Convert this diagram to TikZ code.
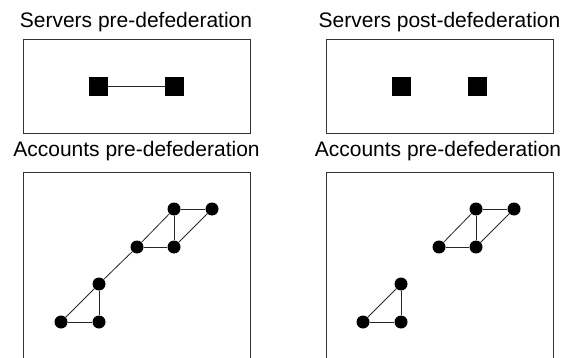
\documentclass[tikz,border=0pt]{standalone}
\usepackage{fontspec}
\setmainfont{Liberation Sans}
\begin{document}
\begin{tikzpicture}[x=1pt,y=-1pt,
  title/.style={anchor=base,inner sep=0pt,font=\fontsize{21}{25}\selectfont},
  frame/.style={draw=black!80,line width=0.9pt},
  srv/.style={draw=black,fill=black,minimum size=18pt,inner sep=0pt,rectangle},
  acc/.style={circle,fill=black,minimum size=13pt,inner sep=0pt},
  link/.style={draw=black!85,line width=0.8pt}]
\useasboundingbox (0,0) rectangle (572,358);
% titles
\node[title] (t1) at (136,28) {Servers pre-defederation};
\node[title] (t2) at (439.5,28) {Servers post-defederation};
\node[title] (t3) at (136.5,157) {Accounts pre-defederation};
\node[title] (t4) at (438,157) {Accounts pre-defederation};
% frames
\draw[frame] (23,39) rectangle (250,133);
\draw[frame] (326,39) rectangle (553,133);
\draw[frame] (23,358.5) -- (23,172) -- (250,172) -- (250,358.5);
\draw[frame] (326,358.5) -- (326,172) -- (553,172) -- (553,358.5);
% servers
\node[srv] (s1) at (98.5,86) {};
\node[srv] (s2) at (174,86) {};
\draw[link] (s1) -- (s2);
\node[srv] (s3) at (401.5,86) {};
\node[srv] (s4) at (477,86) {};
% accounts pre
\node[acc] (a1) at (174,209) {};
\node[acc] (a2) at (212,209) {};
\node[acc] (a3) at (137,247) {};
\node[acc] (a4) at (174,247) {};
\node[acc] (a5) at (99,284) {};
\node[acc] (a6) at (61,322) {};
\node[acc] (a7) at (99,322) {};
\draw[link] (a1) -- (a2);
\draw[link] (a1) -- (a4);
\draw[link] (a2) -- (a4);
\draw[link] (a1) -- (a3);
\draw[link] (a3) -- (a4);
\draw[link] (a3) -- (a5);
\draw[link] (a5) -- (a6);
\draw[link] (a5) -- (a7);
\draw[link] (a6) -- (a7);
% accounts post
\node[acc] (b1) at (476,209) {};
\node[acc] (b2) at (514,209) {};
\node[acc] (b3) at (439,247) {};
\node[acc] (b4) at (476,247) {};
\node[acc] (b5) at (401,284) {};
\node[acc] (b6) at (363,322) {};
\node[acc] (b7) at (401,322) {};
\draw[link] (b1) -- (b2);
\draw[link] (b1) -- (b4);
\draw[link] (b2) -- (b4);
\draw[link] (b1) -- (b3);
\draw[link] (b3) -- (b4);
\draw[link] (b5) -- (b6);
\draw[link] (b5) -- (b7);
\draw[link] (b6) -- (b7);
\end{tikzpicture}
\end{document}
